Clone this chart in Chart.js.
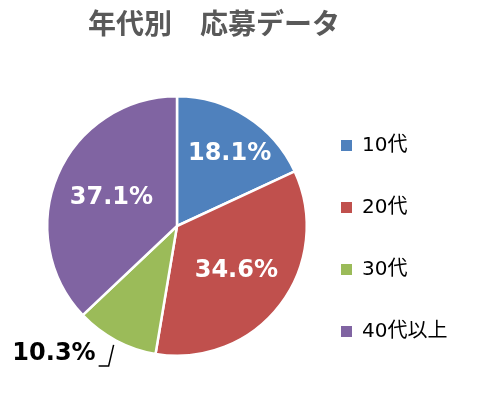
<!DOCTYPE html>
<html><head><meta charset="utf-8">
<script src="https://cdn.jsdelivr.net/npm/chart.js@4"></script>
<style>html,body{margin:0;padding:0;background:#fff;}#wrap{width:477px;height:397px;position:relative;}</style>
</head><body><div id="wrap"><canvas id="c" width="477" height="397"></canvas></div>
<script>
const titleText = '年代別　応募データ';
const categories = ['10代', '20代', '30代', '40代以上'];
const values = [18.1, 34.6, 10.3, 37.1];
const colors = ['#4F81BD', '#C0504D', '#9BBB59', '#8064A2'];

const FONT = '"DejaVu Sans", "Noto Sans CJK JP", sans-serif';
const labelRadius = [0.69, 0.575, 0, 0.55];
const outside = [false, false, true, false];

const overlay = {
  id: 'overlay',
  afterDraw(chart) {
    const ctx = chart.ctx;
    const meta = chart.getDatasetMeta(0);
    ctx.save();
    // title
    ctx.fillStyle = '#595959';
    ctx.font = 'bold 28px ' + FONT;
    ctx.textAlign = 'center';
    ctx.textBaseline = 'middle';
    ctx.fillText(titleText, 214, 27);
    // data labels
    meta.data.forEach((arc, i) => {
      const p = arc.getProps(['x','y','startAngle','endAngle','outerRadius'], true);
      const mid = (p.startAngle + p.endAngle) / 2 + (i === 0 ? 0.06 : 0);
      const txt = values[i].toFixed(1) + '%';
      ctx.font = 'bold 24px ' + FONT;
      ctx.textBaseline = 'middle';
      if (!outside[i]) {
        const r = p.outerRadius * labelRadius[i];
        ctx.fillStyle = '#fff';
        ctx.textAlign = 'center';
        ctx.fillText(txt, p.x + Math.cos(mid) * r, p.y + Math.sin(mid) * r);
      } else {
        const r = p.outerRadius + 5;
        const x1 = p.x + Math.cos(mid) * r, y1 = p.y + Math.sin(mid) * r;
        const x2 = x1 - 5, y2 = y1 + 21;
        const x3 = x2 - 10;
        ctx.strokeStyle = '#000';
        ctx.lineWidth = 1.5;
        ctx.beginPath();
        ctx.moveTo(x1, y1); ctx.lineTo(x2, y2); ctx.lineTo(x3, y2);
        ctx.stroke();
        ctx.fillStyle = '#000';
        ctx.textAlign = 'right';
        ctx.fillText(txt, x3 - 3, y2 - 12);
      }
    });
    // legend
    ctx.font = '20px ' + FONT;
    ctx.textAlign = 'left';
    ctx.textBaseline = 'middle';
    categories.forEach((c, i) => {
      const y = 145 + i * 62;
      ctx.fillStyle = colors[i];
      ctx.fillRect(341, y - 5, 11, 11);
      ctx.fillStyle = '#000';
      ctx.fillText(c, 362, y + 1);
    });
    ctx.restore();
  }
};

new Chart(document.getElementById('c'), {
  type: 'pie',
  data: {
    labels: categories,
    datasets: [{
      data: values,
      backgroundColor: colors,
      borderColor: '#fff',
      borderWidth: 2.5
    }]
  },
  options: {
    responsive: false,
    animation: false,
    layout: { padding: { left: 46, right: 169, top: 95, bottom: 40 } },
    plugins: { legend: { display: false }, title: { display: false }, tooltip: { enabled: false } }
  },
  plugins: [overlay]
});
</script>
</body></html>
